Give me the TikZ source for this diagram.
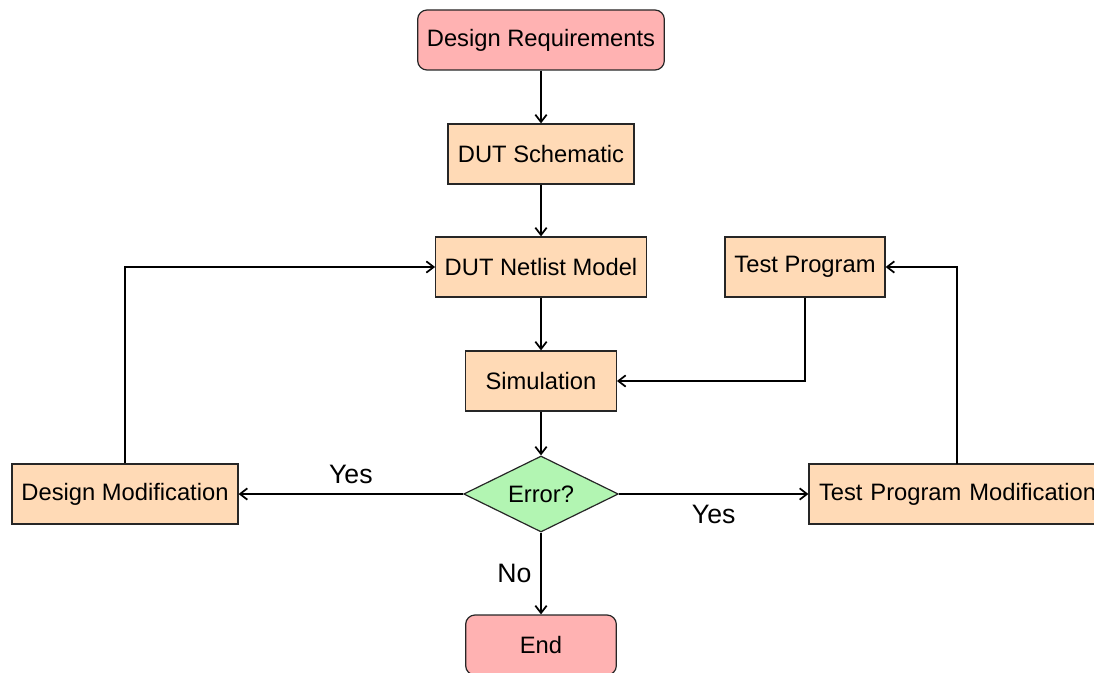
\documentclass[tikz,border=0pt]{standalone}
\usepackage{fontspec}
\setmainfont{Liberation Sans}
\usetikzlibrary{arrows.meta,shapes.geometric}
\definecolor{peach}{RGB}{255,218,182}
\definecolor{rose}{RGB}{255,178,178}
\definecolor{mint}{RGB}{178,245,178}
\tikzset{
  box/.style={draw=black!85, line width=0.9pt, fill=peach, minimum height=45pt, inner sep=0pt, font=\fontsize{17.8}{21}\selectfont},
  term/.style={box, fill=rose, rounded corners=7pt},
  decision/.style={diamond, draw=black!85, line width=0.9pt, fill=mint, minimum width=116pt, minimum height=57pt, inner sep=0pt, aspect=2, font=\fontsize{17.8}{21}\selectfont},
  flow/.style={line width=1.3pt, -{Straight Barb[length=5.5pt,width=8.5pt]}},
  lbl/.style={font=\fontsize{20}{24}\selectfont}
}
\begin{document}
\begin{tikzpicture}[x=0.75pt,y=-0.75pt]
\useasboundingbox (0,0) rectangle (1094,673);
\begin{scope}
\clip (0,0) rectangle (1094,673);
% process steps
\node[term, minimum width=185pt] (req) at (541,40) {Design Requirements};
\node[box, minimum width=139.5pt] (sch) at (541,154) {DUT Schematic};
\node[box, minimum width=158pt] (net) at (541,267) {DUT Netlist Model};
\node[box, minimum width=120pt] (tp) at (805,267) {Test Program};
\node[box, minimum width=113pt] (sim) at (541,381) {Simulation};
\node[decision] (err) at (541,494) {Error?};
\node[box, minimum width=169.5pt] (dm) at (125,494) {Design Modification};
\node[box, inner xsep=7.5pt, minimum width=240pt, text width=225pt, align=left] (tpm) at (969,494) {Test Program Modification};
\node[term, minimum width=113pt] (end) at (541,645) {End};

% main chain
\draw[flow] (req) -- (sch);
\draw[flow] (sch) -- (net);
\draw[flow] (net) -- (sim);
\draw[flow] (sim) -- (err);
\draw[flow] (err) -- node[lbl, pos=0.5, xshift=-20pt] {No} (end);
\draw[flow] (err) -- node[lbl, pos=0.5, yshift=15pt] {Yes} (dm);
\draw[flow] (err.east) -- node[lbl, pos=0.5, yshift=-15pt] {Yes} (tpm.west);

% feedback loops
\draw[flow] (dm.north) |- (net.west);
\draw[flow] (957,464) |- (tp.east);
\draw[flow] (tp.south) |- (sim.east);
\end{scope}
\end{tikzpicture}
\end{document}
